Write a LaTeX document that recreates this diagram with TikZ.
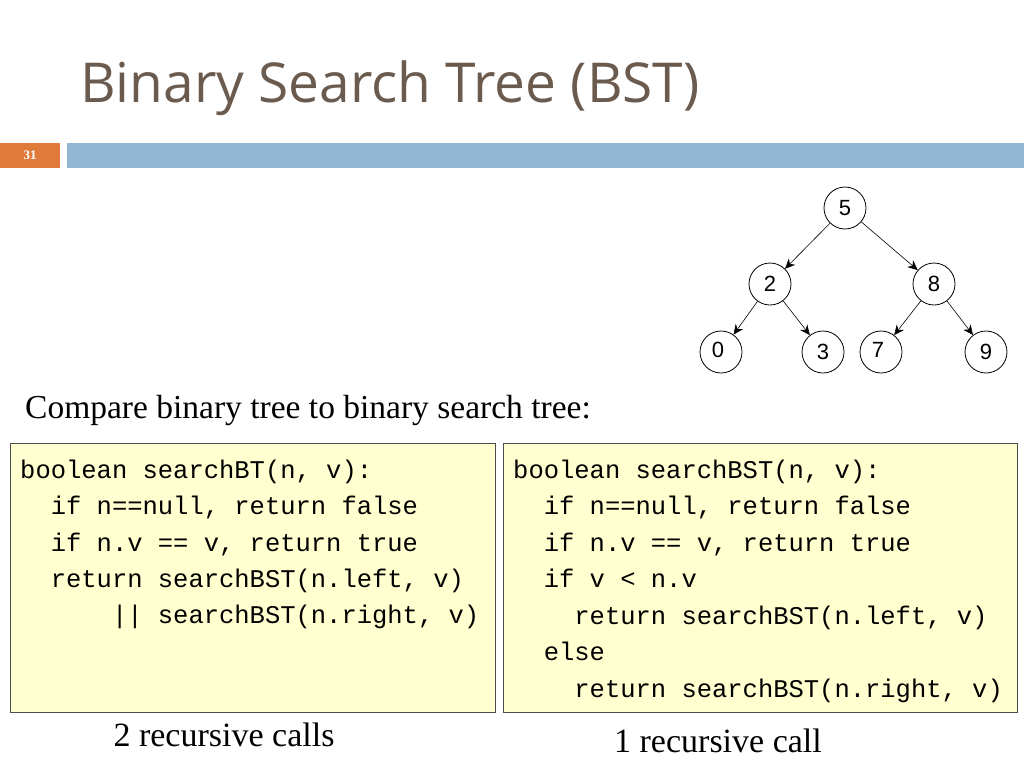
\documentclass[tikz,border=0pt]{standalone}
\usepackage{fontspec}
\setmainfont{Liberation Serif}
\setsansfont{Open Sans}
\setmonofont{Liberation Mono}
\newfontfamily\treefont{Liberation Sans}
\usetikzlibrary{arrows.meta}
\definecolor{titlebrown}{HTML}{6B5B4E}
\definecolor{barblue}{HTML}{93B6D4}
\definecolor{barorange}{HTML}{E07B3C}
\definecolor{codefill}{HTML}{FFFFD0}
\begin{document}
\begin{tikzpicture}[x=1pt,y=-1pt,
  treenode/.style={circle, draw=black, thick, minimum size=42pt, inner sep=0pt, font=\treefont\fontsize{22}{22}\selectfont},
  tarrow/.style={-{Stealth[length=10pt,width=9pt]}, semithick},
  codebox/.style={draw=black!70, fill=codefill, thick},
  codeline/.style={anchor=base west, inner sep=0pt, font=\ttfamily\fontsize{25.5}{25.5}\selectfont},
  caption/.style={anchor=base, inner sep=0pt, font=\fontsize{34}{34}\selectfont}]
  \useasboundingbox (0,0) rectangle (1024,768);
  % title and bar
  \node[anchor=base west, inner sep=0pt, text=titlebrown, font=\sffamily\fontsize{55}{55}\selectfont] (title) at (80,102) {Binary Search Tree (BST)};
  \fill[barorange] (0,143) rectangle (60,168);
  \node[text=white, font=\bfseries\fontsize{13}{13}\selectfont] (num) at (30,155) {31};
  \fill[barblue] (67,143) rectangle (1024,168);
  % tree
  \node[treenode] (n5) at (845,208) {5};
  \node[treenode] (n2) at (770,284) {2};
  \node[treenode] (n8) at (934,284) {8};
  \node[treenode] (n0) at (721,352) {\raisebox{4pt}{\hspace{-6pt}0}};
  \node[treenode] (n3) at (823,352) {3};
  \node[treenode] (n7) at (881,352) {\raisebox{4pt}{\hspace{-6pt}7}};
  \node[treenode] (n9) at (986,352) {9};
  \draw[tarrow] (n5) -- (n2);
  \draw[tarrow] (n5) -- (n8);
  \draw[tarrow] (n2) -- (n0);
  \draw[tarrow] (n2) -- (n3);
  \draw[tarrow] (n8) -- (n7);
  \draw[tarrow] (n8) -- (n9);
  % caption
  \node[anchor=base west, inner sep=0pt, font=\fontsize{33.5}{33.5}\selectfont] (compare) at (25,418) {Compare binary tree to binary search tree:};
  % code boxes
  \draw[codebox] (10,443) rectangle (495,712);
  \draw[codebox] (503,443) rectangle (1017,712);
  \node[codeline] (l1) at (20,478) {boolean searchBT(n, v):};
  \node[codeline] (l2) at (20,514) {\ \ if n==null, return false};
  \node[codeline] (l3) at (20,551) {\ \ if n.v == v, return true};
  \node[codeline] (l4) at (20,587) {\ \ return searchBST(n.left, v)};
  \node[codeline] (l5) at (20,623) {\ \ \ \ \ \ || searchBST(n.right, v)};
  \node[codeline] (r1) at (513,478) {boolean searchBST(n, v):};
  \node[codeline] (r2) at (513,514) {\ \ if n==null, return false};
  \node[codeline] (r3) at (513,551) {\ \ if n.v == v, return true};
  \node[codeline] (r4) at (513,587) {\ \ if v < n.v};
  \node[codeline] (r5) at (513,624) {\ \ \ \ return searchBST(n.left, v)};
  \node[codeline] (r6) at (513,660) {\ \ else};
  \node[codeline] (r7) at (513,697) {\ \ \ \ return searchBST(n.right, v)};
  \node[caption] (calls2) at (224,746) {2 recursive calls};
  \node[caption] (calls1) at (718,752) {1 recursive call};
\end{tikzpicture}
\end{document}
